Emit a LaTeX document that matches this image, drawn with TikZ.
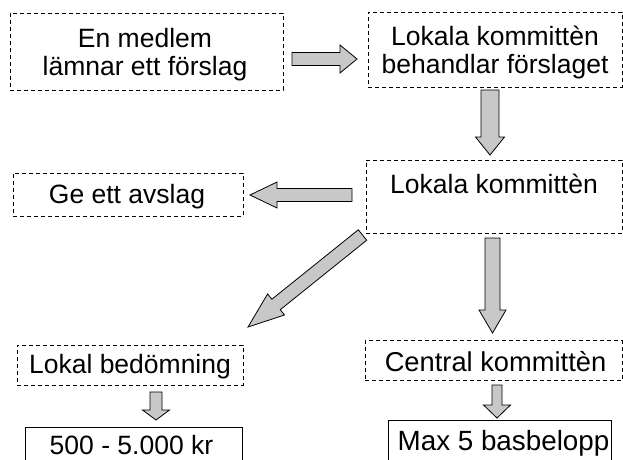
\documentclass[tikz,border=0pt]{standalone}
\usepackage{fontspec}
\setmainfont{Liberation Sans}
\usetikzlibrary{calc}
\definecolor{arrowgray}{RGB}{200,200,200}
\tikzset{
  dbox/.style={draw=black, line width=0.9pt, dash pattern=on 4pt off 3pt, inner sep=0pt},
  sbox/.style={draw=black, line width=0.9pt, inner sep=0pt},
  txt/.style={inner sep=0pt, anchor=base, font=\fontsize{26.5}{28.5}\selectfont},
  txtl/.style={inner sep=0pt, anchor=base, font=\fontsize{27.3}{28.5}\selectfont},
  txtxl/.style={inner sep=0pt, anchor=base, font=\fontsize{27.8}{28.5}\selectfont},
  barrow/.style={draw=black, fill=arrowgray, line width=0.8pt, line join=miter}
}
\newcommand\blockarrow[5]{%
  \pgfpointdiff{\pgfpointanchor{#1}{center}}{\pgfpointanchor{#2}{center}}%
  \pgfgetlastxy{\myAX}{\myAY}%
  \pgfmathsetmacro\myAang{atan2(\myAY,\myAX)}%
  \pgfmathsetmacro\myAlen{veclen(\myAX,\myAY)}%
  \pgfmathsetmacro\myAbase{\myAlen-#5}%
  \draw[barrow,shift={(#1)},rotate=\myAang]
    (0pt,-#3pt) -- (\myAbase pt,-#3pt) -- (\myAbase pt,-#4pt) -- (\myAlen pt,0pt)
    -- (\myAbase pt,#4pt) -- (\myAbase pt,#3pt) -- (0pt,#3pt) -- cycle;
}
\begin{document}
\begin{tikzpicture}[x=1pt,y=-1pt]
\clip (0,0) rectangle (623,459);
\fill[white] (0,0) rectangle (623,459);
% boxes
\node[dbox, minimum width=273pt, minimum height=77pt] (b1) at (146.5,51.5) {};
\node[dbox, minimum width=254pt, minimum height=75pt] (b2) at (495,49.5) {};
\node[dbox, minimum width=256pt, minimum height=73pt] (b3) at (494,196.5) {};
\node[dbox, minimum width=230pt, minimum height=43pt] (b4) at (128,194.5) {};
\node[dbox, minimum width=226pt, minimum height=40pt] (b5) at (130,365) {};
\node[dbox, minimum width=257pt, minimum height=40pt] (b6) at (493.5,360.5) {};
\node[sbox, minimum width=223pt, minimum height=46pt] (b7) at (499.5,443) {};
\node[sbox, minimum width=217pt, minimum height=40pt] (b8) at (133.5,447) {};
% texts
\node[txt] (t1a) at (145,47) {En medlem};
\node[txt] (t1b) at (145,75) {lämnar ett förslag};
\node[txt] (t2a) at (495,45) {Lokala kommittèn};
\node[txt] (t2b) at (495,73) {behandlar förslaget};
\node[txt] (t3) at (494,193) {Lokala kommittèn};
\node[txt] (t4) at (127,203) {Ge ett avslag};
\node[txt] (t5) at (130,373) {Lokal bedömning};
\node[txtl] (t6) at (495.5,371.5) {Central kommittèn};
\node[txtxl] (t7) at (503.5,450) {Max 5 basbelopp};
\node[txt] (t8) at (131.5,454) {500 - 5.000 kr};
% arrow end points
\coordinate (a1s) at (292,59);   \coordinate (a1e) at (357,59);
\coordinate (a2s) at (490,90);   \coordinate (a2e) at (490,155);
\coordinate (a3s) at (352,195);  \coordinate (a3e) at (250,195);
\coordinate (a4s) at (492.5,238);\coordinate (a4e) at (492.5,333);
\coordinate (a5s) at (362.5,235);\coordinate (a5e) at (248,327);
\coordinate (a6s) at (156,392);  \coordinate (a6e) at (156,420);
\coordinate (a7s) at (497,385);  \coordinate (a7e) at (497,418);
% arrows
\blockarrow{a1s}{a1e}{6.5}{14}{17}
\blockarrow{a2s}{a2e}{9}{14.5}{18}
\blockarrow{a3s}{a3e}{6.5}{13}{27}
\blockarrow{a4s}{a4e}{7.5}{13.5}{23}
\blockarrow{a5s}{a5e}{6.7}{13.5}{36}
\blockarrow{a6s}{a6e}{6}{13.5}{10}
\blockarrow{a7s}{a7e}{5}{13.5}{13}
\end{tikzpicture}
\end{document}
